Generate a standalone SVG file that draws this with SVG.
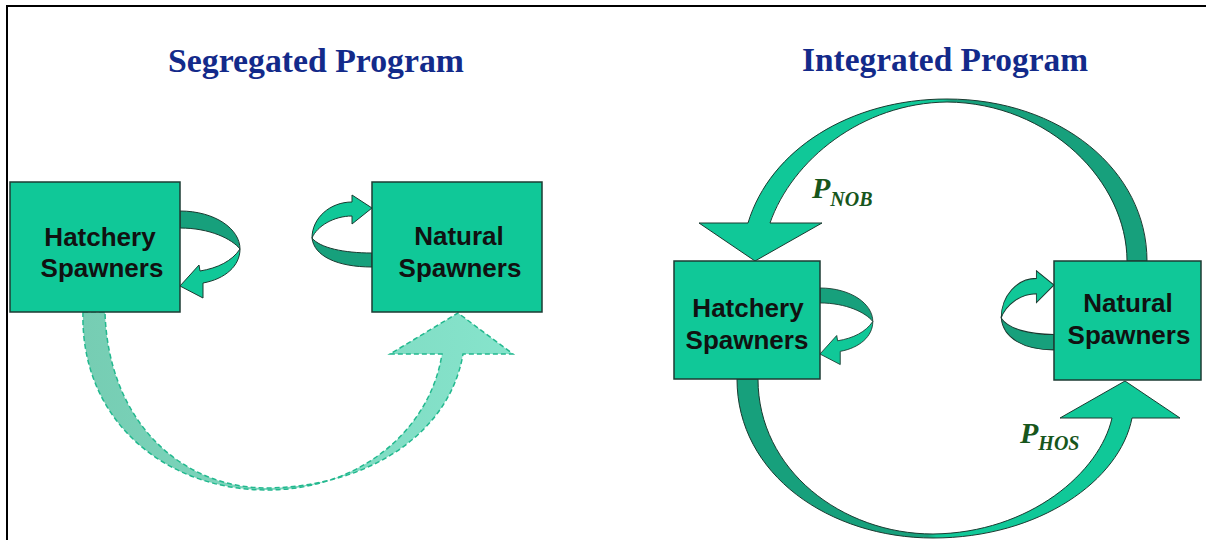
<svg xmlns="http://www.w3.org/2000/svg" width="1206" height="540" viewBox="0 0 1206 540">
<style>
.box{fill:#10c898;stroke:#1d3b33;stroke-width:1.5}
.lbl{font-family:"Liberation Sans",Arial,sans-serif;font-weight:bold;font-size:26px;fill:#111;text-anchor:middle}
.title{font-family:"Liberation Serif","Times New Roman",serif;font-weight:bold;font-size:34px;fill:#132a8a;text-anchor:middle}
.sym{font-family:"Liberation Serif","Times New Roman",serif;font-weight:bold;font-style:italic;fill:#17561c}
.dark{fill:#17a07c;stroke:#1a3a30;stroke-width:1}
.light{fill:#10c898;stroke:#1a3a30;stroke-width:1}
.rib{stroke:#1a3a30;stroke-width:1}
</style>
<defs>
<path id="hDark" d="M0,0 C35,0 60,18 60,38 C52,28 30,17 0,17 Z"/>
<path id="hLight" d="M60,38 C60,55 45,68 23,72 L23,87 L0,75 L19,54 L20,60 C38,57 52,50 60,38 Z"/>
<path id="nDark" d="M-60,30 C-58,48 -35,59 0,59 L0,45 C-28,45 -52,40 -60,30 Z"/>
<path id="nLight" d="M-60,30 C-60,10 -42,-6 -20,-6 L-20,-13 L0,0 L-20,16 L-20,8 C-38,8 -55,18 -60,30 Z"/>
<linearGradient id="segGrad" gradientUnits="userSpaceOnUse" x1="83" y1="0" x2="513" y2="0">
<stop offset="0" stop-color="#76cdb3"/>
<stop offset="1" stop-color="#86e4cc"/>
</linearGradient>
<linearGradient id="nobGrad" gradientUnits="userSpaceOnUse" x1="700" y1="0" x2="1150" y2="0">
<stop offset="0.54" stop-color="#10c898"/>
<stop offset="0.56" stop-color="#17a07c"/>
</linearGradient>
<linearGradient id="hosGrad" gradientUnits="userSpaceOnUse" x1="737" y1="0" x2="1180" y2="0">
<stop offset="0.43" stop-color="#17a07c"/>
<stop offset="0.45" stop-color="#10c898"/>
</linearGradient>
</defs>

<rect width="1206" height="540" fill="#ffffff"/>
<path d="M7,540 L7,6 L1206,6" fill="none" stroke="#000" stroke-width="2"/>

<text class="title" x="316" y="72" textLength="296" lengthAdjust="spacingAndGlyphs">Segregated Program</text>
<text class="title" x="945" y="71" textLength="286" lengthAdjust="spacingAndGlyphs">Integrated Program</text>

<g id="connectors">
  <!-- segregated: hatchery to natural dashed arc -->
  <path d="M83,312 C80,420 165,490 267,490 C360,490 430,430 442,354 L390,354 L458,313 L513,354 L463,354 C450,432 370,487 267,488 C180,488 108,420 105,312 Z" fill="url(#segGrad)" stroke="#22b88e" stroke-width="1.5" stroke-dasharray="5,3"/>
  <!-- segregated self loops -->
  <g transform="translate(180,211)">
    <use href="#hDark" class="dark"/>
    <use href="#hLight" class="light"/>
  </g>
  <g transform="translate(372,208)">
    <use href="#nDark" class="dark"/>
    <use href="#nLight" class="light"/>
  </g>
  <!-- integrated: PNOB arc natural -> hatchery -->
  <path d="M748,223 C770,150 850,99 947,99 C1060,99 1147,170 1147,261 L1127,261 C1127,182 1050,103 947,102 C862,103 792,160 770,223 L822,223 L755,261 L699,223 Z" fill="url(#nobGrad)" class="rib"/>
  <!-- integrated: PHOS arc hatchery -> natural -->
  <path d="M737,379 C737,475 830,538 933,538 C1040,538 1120,480 1132,418 L1180,418 L1125,381 L1060,418 L1112,418 C1100,472 1030,533 933,534 C842,534 758,470 758,379 Z" fill="url(#hosGrad)" class="rib"/>
  <!-- integrated self loops -->
  <g transform="translate(820,288) scale(0.88)">
    <use href="#hDark" class="dark"/>
    <use href="#hLight" class="light"/>
  </g>
  <g transform="translate(1054,285) scale(0.88,1.1)">
    <use href="#nDark" class="dark"/>
    <use href="#nLight" class="light"/>
  </g>
  <text class="sym" x="812" y="198" font-size="30">P<tspan font-size="20" dy="8">NOB</tspan></text>
  <text class="sym" x="1020" y="443" font-size="30">P<tspan font-size="20" dy="7">HOS</tspan></text>
</g>

<g id="seg-hatchery">
  <rect class="box" x="10" y="182" width="170" height="130"/>
  <text class="lbl" x="100" y="246">Hatchery</text>
  <text class="lbl" x="102" y="277">Spawners</text>
</g>
<g id="seg-natural">
  <rect class="box" x="372" y="182" width="170" height="130"/>
  <text class="lbl" x="459" y="245">Natural</text>
  <text class="lbl" x="460" y="277">Spawners</text>
</g>
<g id="int-hatchery">
  <rect class="box" x="674" y="261" width="146" height="118"/>
  <text class="lbl" x="748" y="317">Hatchery</text>
  <text class="lbl" x="747" y="349">Spawners</text>
</g>
<g id="int-natural">
  <rect class="box" x="1054" y="261" width="147" height="119"/>
  <text class="lbl" x="1128" y="312">Natural</text>
  <text class="lbl" x="1129" y="344">Spawners</text>
</g>
</svg>
